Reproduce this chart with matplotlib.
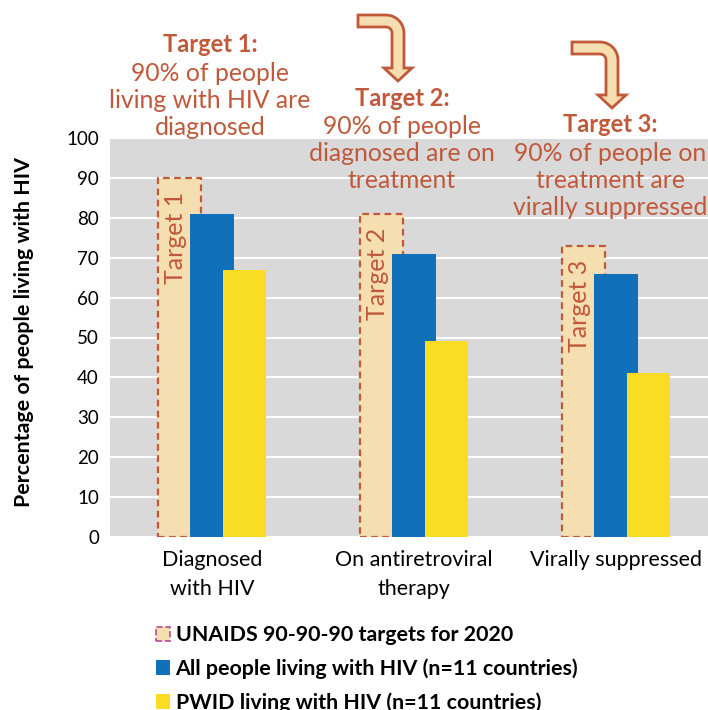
# Recreation of the UNAIDS 90-90-90 cascade chart
import matplotlib
matplotlib.use("Agg")
import matplotlib.pyplot as plt
import numpy as np
from matplotlib.patches import Patch, Polygon

categories = ["Diagnosed\nwith HIV", "On antiretroviral\ntherapy", "Virally suppressed"]
target_values = [90, 81, 73]
all_plhiv = [81, 71, 66]
pwid_plhiv = [67, 49, 41]
target_names = ["Target 1", "Target 2", "Target 3"]
target_heads = ["Target 1:", "Target 2:", "Target 3:"]
target_texts = ["90% of people\nliving with HIV are\ndiagnosed",
                "90% of people\ndiagnosed are on\ntreatment",
                "90% of people on\ntreatment are\nvirally suppressed"]
legend_labels = ["UNAIDS 90-90-90 targets for 2020",
                 "All people living with HIV (n=11 countries)",
                 "PWID living with HIV (n=11 countries)"]

BROWN = "#C0583A"
BEIGE = "#F5DEB0"
BLUE = "#1071BA"
YELLOW = "#F9DC24"
GRAY = "#D9D9D9"

plt.rcParams["font.family"] = ["Lato", "DejaVu Sans"]

W, H = 708, 710
f = plt.figure(figsize=(W / 100, H / 100), dpi=100)
ax = f.add_axes([110 / W, 1 - 537 / H, 598 / W, 399 / H])
ax.set_facecolor(GRAY)

x = np.arange(len(categories))
bw = 0.215
ax.bar(x - 0.16, target_values, bw, color=BEIGE, edgecolor=BROWN,
       linestyle=(0, (3, 2)), linewidth=1.6, zorder=2)
ax.bar(x, all_plhiv, bw, color=BLUE, zorder=3)
ax.bar(x + 0.16, pwid_plhiv, bw, color=YELLOW, zorder=4)

for i in range(len(categories)):
    ax.text(x[i] - 0.18, target_values[i] - 3.5, target_names[i], rotation=90,
            ha="center", va="top", color=BROWN, fontsize=18, zorder=5)

ax.set_xlim(-0.505, 2.455)
ax.set_ylim(0, 100)
ax.set_yticks(np.arange(0, 101, 10))
ax.yaxis.grid(True, color="white", linewidth=1.5, zorder=0)
ax.set_axisbelow(True)
for s in ax.spines.values():
    s.set_visible(False)
ax.tick_params(axis="y", length=0, labelsize=13.5, pad=8)
ax.tick_params(axis="x", length=0, labelsize=15.5, pad=9)
ax.set_xticks(x)
ax.set_xticklabels(categories, linespacing=1.6)
ax.set_ylabel("Percentage of people living with HIV", fontsize=15.4,
              fontweight="bold")
ax.yaxis.set_label_coords(-0.127, 0.514)

# target annotations (pixel positions, y from top)
ann_pos = [(210, 45), (402, 98), (610, 125)]
for (px, py), head, txt in zip(ann_pos, target_heads, target_texts):
    f.text(px / W, 1 - py / H, head, ha="center", va="center",
           fontsize=17, fontweight="bold", color=BROWN)
    f.text(px / W, 1 - (py + 17) / H, txt, ha="center", va="top",
           fontsize=17.8, color=BROWN, linespacing=1.22)


def bent_arrow(tx, ty):
    # outline of a bent arrow with its tip at (tx, ty), image pixels
    ro, ri = 18, 6
    pts = [(0, 0), (14, -13), (6, -13), (6, -66 + ro)]
    a = np.linspace(0, np.pi / 2, 10)
    cx, cy = 6 - ro, -66 + ro
    pts += [(cx + ro * np.cos(t), cy - ro * np.sin(t)) for t in a]
    pts += [(-40, -66), (-40, -54), (-6 - ri, -54)]
    cx, cy = -6 - ri, -54 + ri
    pts += [(cx + ri * np.cos(t), cy - ri * np.sin(t)) for t in a[::-1]]
    pts += [(-6, -13), (-14, -13)]
    xy = [((tx + p[0]) / W, 1 - (ty + p[1]) / H) for p in pts]
    f.add_artist(Polygon(xy, closed=True, facecolor=BEIGE, edgecolor=BROWN,
                         linewidth=2, transform=f.transFigure))


bent_arrow(398, 81)
bent_arrow(612, 108)

handles = [Patch(facecolor=BEIGE, edgecolor="#B0509A", linestyle="--", linewidth=1.2),
           Patch(facecolor=BLUE), Patch(facecolor=YELLOW)]
f.legend(handles, legend_labels, loc="upper left",
         bbox_to_anchor=(137 / W, 1 - 606 / H), frameon=False,
         prop={"size": 15.4, "weight": "bold"}, handlelength=0.65,
         handleheight=0.65, handletextpad=0.25, labelspacing=0.62)

f.savefig("out.png", dpi=100)
